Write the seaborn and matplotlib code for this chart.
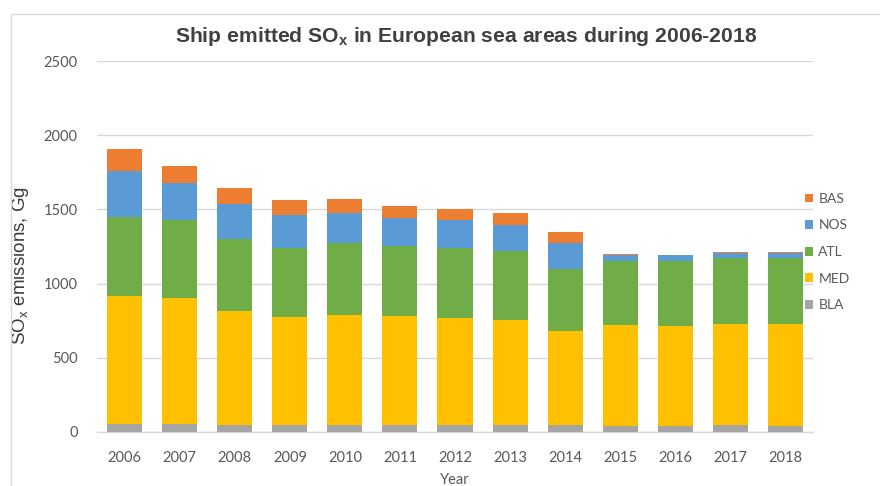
import matplotlib
matplotlib.use("Agg")
import matplotlib.pyplot as plt
from matplotlib.patches import Patch, Rectangle
import numpy as np
import pandas as pd
import seaborn as sns

# Annual ship-emitted SOx by European sea area, Gg
years = ["2006", "2007", "2008", "2009", "2010", "2011", "2012",
         "2013", "2014", "2015", "2016", "2017", "2018"]
bla = [50, 50, 45, 45, 45, 45, 45, 45, 45, 40, 40, 45, 40]
med = [864, 850, 773, 732, 741, 734, 724, 710, 638, 677, 672, 683, 688]
atl = [538, 528, 482, 460, 487, 476, 471, 464, 415, 437, 442, 442, 442]
nos = [308, 249, 236, 227, 206, 184, 188, 178, 175, 36, 36, 33, 33]
bas = [145, 117, 107, 103, 94, 81, 76, 78, 72, 7, 5, 10, 8]

areas = ["BLA", "MED", "ATL", "NOS", "BAS"]
series = {"BLA": bla, "MED": med, "ATL": atl, "NOS": nos, "BAS": bas}
colors = {"BLA": "#A5A5A5", "MED": "#FFC000", "ATL": "#70AD47",
          "NOS": "#5B9BD5", "BAS": "#ED7D31"}
yticks = [0, 500, 1000, 1500, 2000, 2500]

sns.set_theme(style="white")
plt.rcParams["font.family"] = ["Liberation Sans", "DejaVu Sans"]
plt.rcParams["mathtext.fontset"] = "custom"
plt.rcParams["mathtext.rm"] = "Liberation Sans"
plt.rcParams["mathtext.bf"] = "Liberation Sans:bold"

fig = plt.figure(figsize=(8.8, 4.86), dpi=100)
ax = fig.add_axes([97 / 880, 1 - 431.7 / 486, (813 - 97) / 880, (431.7 - 61.3) / 486])

df = pd.DataFrame(series, index=years)
bottom = np.zeros(len(years))
for area in areas:
    sns.barplot(x=df.index, y=df[area].values, bottom=bottom, color=colors[area],
                width=0.636, linewidth=0, saturation=1, ax=ax, zorder=3)
    bottom = bottom + df[area].values

ax.set_xlim(-0.5, len(years) - 0.5)
ax.set_ylim(0, 2500)
ax.set_yticks(yticks)
ax.set_yticklabels([str(t) for t in yticks])
ax.yaxis.grid(True, color="#D9D9D9", linewidth=1.0, zorder=0)
ax.xaxis.grid(False)
for side in ["top", "right", "left"]:
    ax.spines[side].set_visible(False)
ax.spines["bottom"].set_color("#D9D9D9")
ax.spines["bottom"].set_linewidth(1.0)
ax.tick_params(axis="both", length=0, colors="#595959", labelsize=10.5)
ax.tick_params(axis="y", pad=14)
ax.tick_params(axis="x", pad=14)
for lbl in ax.get_xticklabels() + ax.get_yticklabels():
    lbl.set_fontfamily("Lato")

ax.set_xlabel("Year", fontfamily="Lato", fontsize=10.5, color="#595959", labelpad=6)
ax.set_ylabel(r"SO$_{\mathrm{x}}$ emissions, Gg", fontsize=13.5, color="#3A3A3A")
ax.yaxis.set_label_coords((31 - 97) / 716, (431.7 - 265) / 370.4)

fig.text(466 / 880, 1 - 37 / 486, r"Ship emitted SO$_{\mathbf{x}}$ in European sea areas during 2006-2018",
         ha="center", va="center", fontsize=15.2, fontweight="bold", color="#404040")

handles = [Patch(facecolor=colors[a], edgecolor="none", label=a) for a in reversed(areas)]
leg = fig.legend(handles=handles, loc="center left", bbox_to_anchor=(792 / 880, 1 - 252 / 486),
                 frameon=False, handlelength=0.6, handleheight=0.6, handletextpad=0.4,
                 labelspacing=1.05, prop={"family": "Lato", "size": 10})
for t in leg.get_texts():
    t.set_color("#595959")

# light chart-area frame
fig.patches.append(Rectangle((11 / 880, -0.1), 1.2, 1.1 - 14 / 486,
                             transform=fig.transFigure, fill=False,
                             edgecolor="#D9D9D9", linewidth=1.0))

fig.savefig("out.png", dpi=100)
